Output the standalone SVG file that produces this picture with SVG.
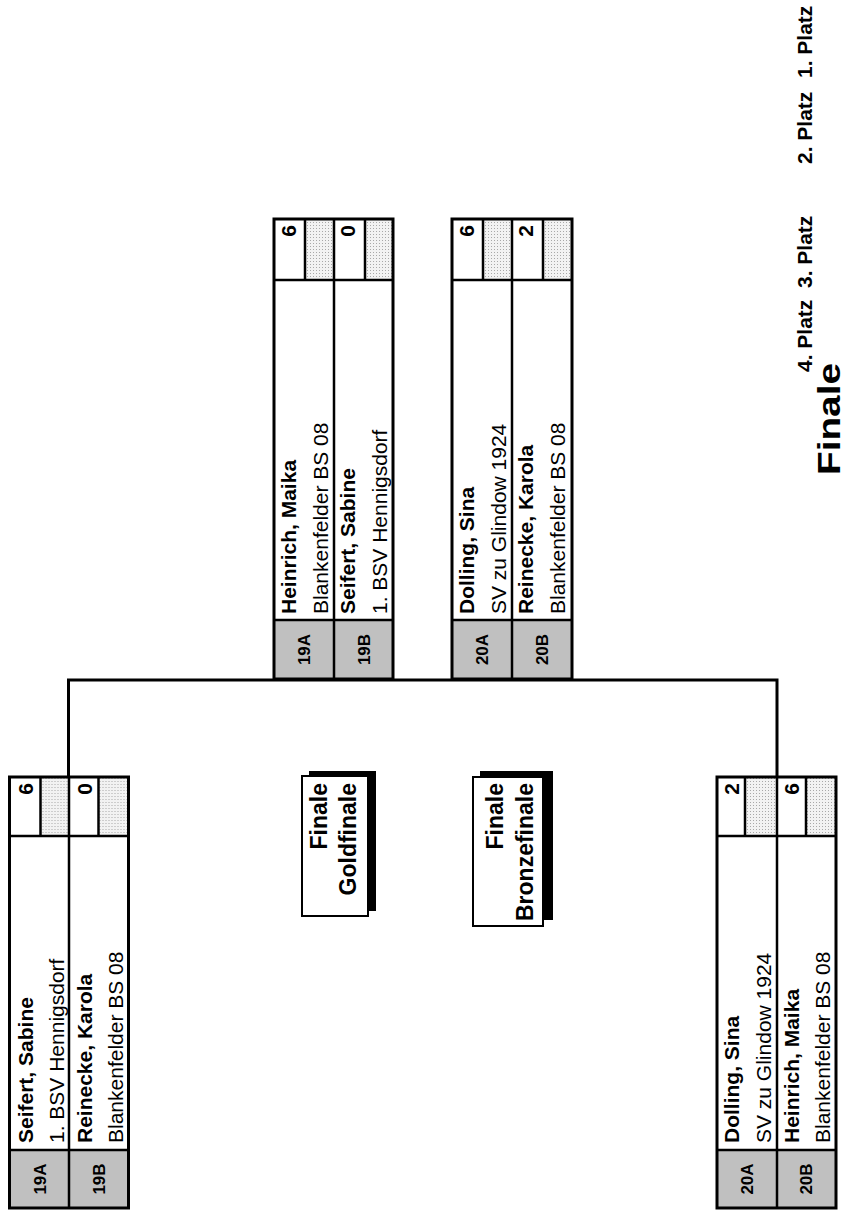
<svg xmlns="http://www.w3.org/2000/svg" width="846" height="1218" viewBox="0 0 846 1218">
<style>
text{font-family:"Liberation Sans",Arial,sans-serif;fill:#000}
.b{font-weight:bold}
.nm{font-size:21px;font-weight:bold}
.cl{font-size:21px}
.sd{font-size:17px;font-weight:bold;text-anchor:middle}
.sc{font-size:21px;font-weight:bold;text-anchor:end}
.ln{stroke:#000;stroke-width:2.5;fill:none}
.ob{fill:none;stroke:#000;stroke-width:3}
.seed{fill:#c0c0c0}
.dot{fill:url(#dots)}
.fb{font-size:23px;font-weight:bold;text-anchor:end}
.pl{font-size:21px;font-weight:bold}
</style>
<defs>
<pattern id="dots" width="3" height="3" patternUnits="userSpaceOnUse">
<rect width="3" height="3" fill="#f2f2f2"/>
<rect width="1" height="1" fill="#a8a8a8"/>
</pattern>
</defs>
<rect width="846" height="1218" fill="#fff"/>

<g id="connectors">
<polyline class="ob" points="68.5,777 68.5,680 777,680 777,777"/>
</g>

<g id="match19-final" transform="translate(274,679) rotate(-90)">
<rect x="0" y="0" width="460" height="119" fill="#fff"/>
<rect class="seed" x="0" y="0" width="59" height="119"/>
<rect class="dot" x="399" y="31" width="61" height="29"/>
<rect class="dot" x="399" y="91" width="61" height="28"/>
<line class="ln" x1="59" y1="0" x2="59" y2="119"/>
<line class="ln" x1="399" y1="0" x2="399" y2="119"/>
<line class="ln" x1="0" y1="60" x2="460" y2="60"/>
<line class="ln" x1="399" y1="31" x2="460" y2="31"/>
<line class="ln" x1="399" y1="91" x2="460" y2="91"/>
<rect class="ob" x="0" y="0" width="460" height="119"/>
<text class="sd" x="29.5" y="36">19A</text>
<text class="sd" x="29.5" y="96">19B</text>
<text class="nm" x="65" y="22">Heinrich, Maika</text>
<text class="cl" x="65" y="54">Blankenfelder BS 08</text>
<text class="nm" x="65" y="81">Seifert, Sabine</text>
<text class="cl" x="65" y="113">1. BSV Hennigsdorf</text>
<text class="sc" x="454" y="22">6</text>
<text class="sc" x="454" y="81">0</text>
</g>

<g id="match20-final" transform="translate(452,679) rotate(-90)">
<rect x="0" y="0" width="460" height="120" fill="#fff"/>
<rect class="seed" x="0" y="0" width="59" height="120"/>
<rect class="dot" x="399" y="31" width="61" height="29"/>
<rect class="dot" x="399" y="91" width="61" height="29"/>
<line class="ln" x1="59" y1="0" x2="59" y2="120"/>
<line class="ln" x1="399" y1="0" x2="399" y2="120"/>
<line class="ln" x1="0" y1="60" x2="460" y2="60"/>
<line class="ln" x1="399" y1="31" x2="460" y2="31"/>
<line class="ln" x1="399" y1="91" x2="460" y2="91"/>
<rect class="ob" x="0" y="0" width="460" height="120"/>
<text class="sd" x="29.5" y="36">20A</text>
<text class="sd" x="29.5" y="96">20B</text>
<text class="nm" x="65" y="22">Dolling, Sina</text>
<text class="cl" x="65" y="54">SV zu Glindow 1924</text>
<text class="nm" x="65" y="81">Reinecke, Karola</text>
<text class="cl" x="65" y="113">Blankenfelder BS 08</text>
<text class="sc" x="454" y="22">6</text>
<text class="sc" x="454" y="81">2</text>
</g>

<g id="match19" transform="translate(9.5,1208) rotate(-90)">
<rect x="0" y="0" width="431" height="119" fill="#fff"/>
<rect class="seed" x="0" y="0" width="58" height="119"/>
<rect class="dot" x="372" y="31" width="59" height="28.5"/>
<rect class="dot" x="372" y="89" width="59" height="30"/>
<line class="ln" x1="58" y1="0" x2="58" y2="119"/>
<line class="ln" x1="372" y1="0" x2="372" y2="119"/>
<line class="ln" x1="0" y1="59.5" x2="431" y2="59.5"/>
<line class="ln" x1="372" y1="31" x2="431" y2="31"/>
<line class="ln" x1="372" y1="89" x2="431" y2="89"/>
<rect class="ob" x="0" y="0" width="431" height="119"/>
<text class="sd" x="29" y="36">19A</text>
<text class="sd" x="29" y="95">19B</text>
<text class="nm" x="65" y="23">Seifert, Sabine</text>
<text class="cl" x="65" y="54">1. BSV Hennigsdorf</text>
<text class="nm" x="65" y="82">Reinecke, Karola</text>
<text class="cl" x="65" y="113">Blankenfelder BS 08</text>
<text class="sc" x="425" y="23">6</text>
<text class="sc" x="425" y="82">0</text>
</g>

<g id="match20" transform="translate(717,1208) rotate(-90)">
<rect x="0" y="0" width="431" height="119" fill="#fff"/>
<rect class="seed" x="0" y="0" width="58" height="119"/>
<rect class="dot" x="372" y="28" width="59" height="32"/>
<rect class="dot" x="372" y="89" width="59" height="30"/>
<line class="ln" x1="58" y1="0" x2="58" y2="119"/>
<line class="ln" x1="372" y1="0" x2="372" y2="119"/>
<line class="ln" x1="0" y1="60" x2="431" y2="60"/>
<line class="ln" x1="372" y1="28" x2="431" y2="28"/>
<line class="ln" x1="372" y1="89" x2="431" y2="89"/>
<rect class="ob" x="0" y="0" width="431" height="119"/>
<text class="sd" x="29" y="36">20A</text>
<text class="sd" x="29" y="95">20B</text>
<text class="nm" x="65" y="22">Dolling, Sina</text>
<text class="cl" x="65" y="54">SV zu Glindow 1924</text>
<text class="nm" x="65" y="82">Heinrich, Maika</text>
<text class="cl" x="65" y="113">Blankenfelder BS 08</text>
<text class="sc" x="425" y="22">2</text>
<text class="sc" x="425" y="82">6</text>
</g>

<g id="goldfinale-label">
<rect x="309" y="771" width="67" height="140" fill="#000"/>
<rect x="302" y="776" width="66" height="140" fill="#fff" stroke="#000" stroke-width="2"/>
<text class="fb" transform="translate(327,783) rotate(-90)">Finale</text>
<text class="fb" transform="translate(356,783) rotate(-90)">Goldfinale</text>
</g>

<g id="bronzefinale-label">
<rect x="480" y="771" width="73" height="149" fill="#000"/>
<rect x="473" y="777" width="70" height="149" fill="#fff" stroke="#000" stroke-width="2"/>
<text class="fb" transform="translate(503,783) rotate(-90)">Finale</text>
<text class="fb" transform="translate(533,783) rotate(-90)">Bronzefinale</text>
</g>

<g id="placings">
<text class="pl" transform="translate(812,78) rotate(-90)">1. Platz</text>
<text class="pl" transform="translate(812,164) rotate(-90)">2. Platz</text>
<text class="pl" transform="translate(812,288) rotate(-90)">3. Platz</text>
<text class="pl" transform="translate(812,372) rotate(-90)">4. Platz</text>
</g>

<g id="title">
<text class="b" font-size="32" textLength="112" lengthAdjust="spacingAndGlyphs" transform="translate(840,475) rotate(-90)">Finale</text>
</g>
</svg>
